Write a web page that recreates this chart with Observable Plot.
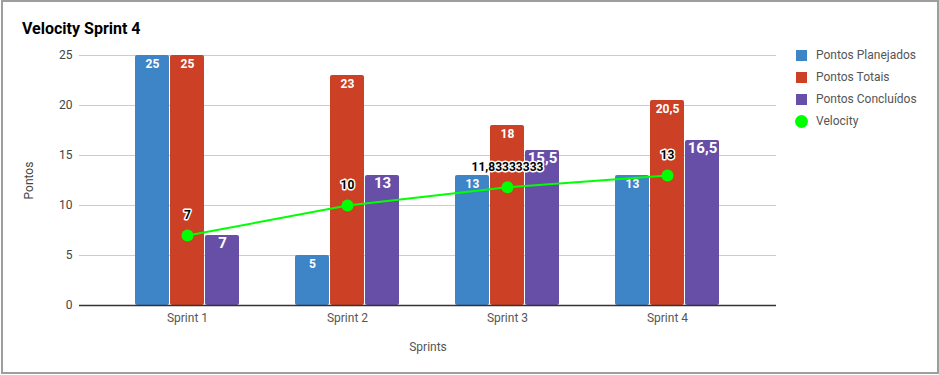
<!DOCTYPE html>
<html>
<head>
<meta charset="utf-8">
<script src="https://cdn.jsdelivr.net/npm/d3@7"></script>
<script src="https://cdn.jsdelivr.net/npm/@observablehq/plot@0.6"></script>
<style>
  body { margin: 0; background: #fff; font-family: Roboto, "Noto Sans", sans-serif; }
  #wrap { position: relative; width: 939px; height: 375px; overflow: hidden; }
  #frame { position: absolute; left: 1px; top: 0px; width: 934px; height: 370px; border: 2px solid #9e9e9e; box-sizing: content-box; pointer-events: none; }
  #title { position: absolute; left: 22px; top: 19px; font-size: 16px; font-weight: bold; color: #000; }
  #legend { position: absolute; left: 796px; top: 44px; font-size: 12px; color: #555; }
  .row { display: flex; align-items: center; height: 22px; }
  .sw { width: 11px; height: 11px; margin-right: 9px; }
  .dot { width: 13px; height: 13px; border-radius: 50%; margin-left: -1px; margin-right: 8px; }
  #chart { position: absolute; left: 0; top: 0; }
</style>
</head>
<body>
<div id="wrap">
  <div id="chart"></div>
  <div id="title">Velocity Sprint 4</div>
  <div id="legend"></div>
  <div id="frame"></div>
</div>
<script>
const sprints = ["Sprint 1", "Sprint 2", "Sprint 3", "Sprint 4"];
const planejados = [25, 5, 13, 13];
const totais = [25, 23, 18, 20.5];
const concluidos = [7, 13, 15.5, 16.5];
const velocity = [7, 10, 11.83333333, 13];
const seriesNames = ["Pontos Planejados", "Pontos Totais", "Pontos Concluídos", "Velocity"];
const colors = ["#3d85c6", "#cc4125", "#674ea7", "#00ff00"];
const yTicks = [0, 5, 10, 15, 20, 25];

const fmt = v => String(v).replace(".", ",");
const rows = arr => sprints.map((s, i) => ({sprint: s, value: arr[i], label: fmt(arr[i])}));
const P = rows(planejados), T = rows(totais), C = rows(concluidos), V = rows(velocity);

const barW = 34, step = 35, band = 160;
const inset = (band - barW) / 2;

const barOpts = (dx, fill) => ({x: "sprint", y: "value", fill, dx, insetLeft: inset, insetRight: inset, rx: 2});
const lblOpts = (dx, size) => ({x: "sprint", y: "value", text: "label", dx, fill: "#fff", fontWeight: "bold", fontSize: size, lineAnchor: "top", dy: size === 12 ? 4 : 2});

const chart = Plot.plot({
  width: 939,
  height: 375,
  marginLeft: 79,
  marginRight: 163,
  marginTop: 55,
  marginBottom: 70,
  style: {fontFamily: "Roboto, 'Noto Sans', sans-serif", fontSize: "12px", color: "#444", background: "transparent"},
  x: {domain: sprints, range: [107, 747], padding: 0},
  y: {domain: [0, 25], ticks: yTicks},
  marks: [
    Plot.gridY(yTicks, {stroke: "#cccccc", strokeOpacity: 1}),
    Plot.axisY(yTicks, {tickSize: 0, tickPadding: 7, fill: "#444", label: "Pontos", labelArrow: "none", labelAnchor: "center", labelOffset: 55, fontSize: 12}),
    Plot.axisX({tickSize: 0, tickPadding: 8, fill: "#555", label: "Sprints", labelArrow: "none", labelAnchor: "center", labelOffset: 45, fontSize: 12}),
    Plot.barY(P, barOpts(-step, colors[0])),
    Plot.barY(T, barOpts(0, colors[1])),
    Plot.barY(C, barOpts(step, colors[2])),
    Plot.ruleY([0], {stroke: "#333", strokeWidth: 1.5}),
    Plot.text(P, lblOpts(-step, 12)),
    Plot.text(T, lblOpts(0, 12)),
    Plot.text(C, lblOpts(step, 15)),
    Plot.line(V, {x: "sprint", y: "value", stroke: colors[3], strokeWidth: 2}),
    Plot.dot(V, {x: "sprint", y: "value", r: 6, fill: colors[3]}),
    Plot.text(V, {x: "sprint", y: "value", text: "label", dy: -20, fill: "#000", stroke: "#fff", strokeWidth: 3, fontWeight: "bold", fontSize: 12})
  ]
});
document.getElementById("chart").appendChild(chart);

const legend = document.getElementById("legend");
seriesNames.forEach((name, i) => {
  const r = document.createElement("div");
  r.className = "row";
  const s = document.createElement("div");
  s.className = i === 3 ? "dot" : "sw";
  s.style.background = colors[i];
  const t = document.createElement("span");
  t.textContent = name;
  r.appendChild(s); r.appendChild(t);
  legend.appendChild(r);
});
</script>
</body>
</html>
